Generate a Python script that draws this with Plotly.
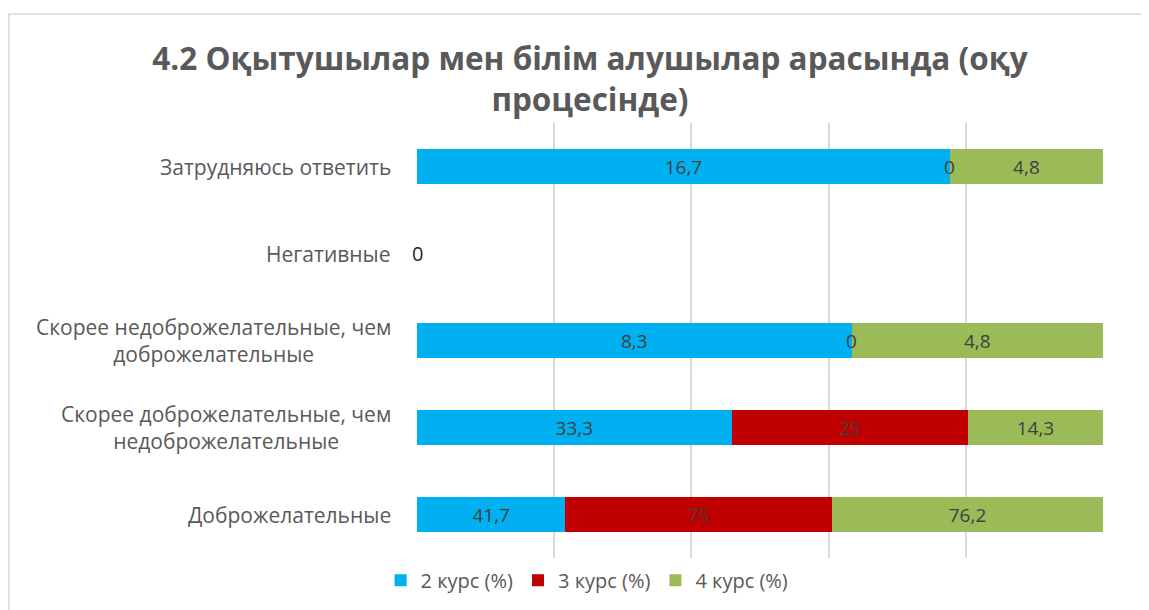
import plotly.graph_objects as go

categories = [
    "Доброжелательные",
    "Скорее доброжелательные, чем<br>недоброжелательные",
    "Скорее недоброжелательные, чем<br>доброжелательные",
    "Негативные",
    "Затрудняюсь ответить",
]
series_names = ["2 курс (%)", "3 курс (%)", "4 курс (%)"]
kurs2 = [41.7, 33.3, 8.3, 0, 16.7]
kurs3 = [75, 25, 0, 0, 0]
kurs4 = [76.2, 14.3, 4.8, 0, 4.8]
colors = ["#00B0F0", "#C00000", "#9BBB59"]

series = [kurs2, kurs3, kurs4]
FONT = "Open Sans, sans-serif"

def fmt(v):
    return ("%g" % v).replace(".", ",")

fig = go.Figure()
for name, vals, col in zip(series_names, series, colors):
    fig.add_trace(go.Bar(
        y=categories, x=vals, name=name, orientation="h",
        marker=dict(color=col, line=dict(width=0)),
        text=[fmt(v) if v != 0 else "" for v in vals],
        texttemplate="%{text}", textposition="inside",
        insidetextanchor="middle",
        textfont=dict(family=FONT, size=19, color="#404040"),
        hoverinfo="skip",
    ))

annotations = []
for i, cat in enumerate(categories):
    # category label, centred multi-line like the original
    annotations.append(dict(x=0, y=cat, xref="paper", yref="y", text=cat, showarrow=False,
                            xanchor="right", xshift=-24, align="center",
                            font=dict(family=FONT, size=21, color="#595959")))
    total = sum(s[i] for s in series)
    cum = 0
    if total == 0:
        annotations.append(dict(x=0, y=cat, xref="x", yref="y", text="0", showarrow=False,
                                font=dict(family=FONT, size=20, color="#262626")))
        continue
    for s in series:
        pct = s[i] / total * 100
        if s[i] == 0:
            annotations.append(dict(x=cum, y=cat, xref="x", yref="y", text="0", showarrow=False,
                                    font=dict(family=FONT, size=19, color="#404040")))
        cum += pct

fig.update_layout(
    barmode="stack", barnorm="percent", bargap=0.6,
    width=1149, height=610,
    margin=dict(l=409, r=54, t=115, b=60, autoexpand=False),
    paper_bgcolor="white", plot_bgcolor="white",
    title=dict(text="4.2 Оқытушылар мен білім алушылар арасында (оқу<br>процесінде)",
               x=0.5065, xanchor="center", xref="container", y=0.898, yanchor="middle", yref="container",
               font=dict(family=FONT, size=31.5, color="#595959", weight="bold")),
    xaxis=dict(range=[0, 100], dtick=20, showticklabels=False, showgrid=True,
               gridcolor="#D9D9D9", gridwidth=2, zeroline=False, fixedrange=True),
    yaxis=dict(categoryorder="array", categoryarray=categories, showgrid=False,
               showticklabels=False, ticks="", zeroline=False),
    legend=dict(orientation="h", x=0.504, xanchor="center", xref="container", y=0.062, yanchor="middle",
                yref="container", font=dict(family=FONT, size=20, color="#595959"),
                itemwidth=30, traceorder="normal"),
    annotations=annotations,
    shapes=[dict(type="rect", xref="paper", yref="paper", x0=-0.595, x1=1.2, y0=-0.3, y1=1.2506,
                 line=dict(color="#D9D9D9", width=1.5), fillcolor="rgba(0,0,0,0)", layer="below")],
)

fig.write_html("out.html")
